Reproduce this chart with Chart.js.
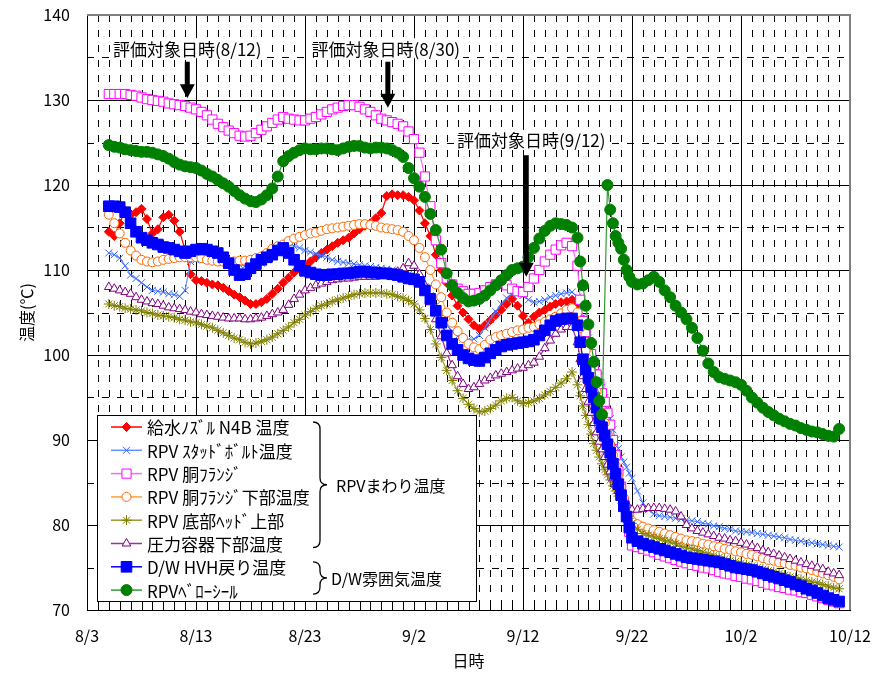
<!DOCTYPE html>
<html lang="ja">
<head>
<meta charset="utf-8">
<title>RPVまわり温度・D/W雰囲気温度</title>
<script src="https://cdn.jsdelivr.net/npm/chart.js@4.4.1/dist/chart.umd.min.js"></script>
<style>
  html, body { margin: 0; padding: 0; background: #fff; }
  #wrap { width: 875px; height: 673px; }
</style>
</head>
<body>
<div id="wrap"><canvas id="tempChart" width="875" height="673"></canvas></div>
<script>
// x = days since 8/3 (0 = 8/3, 10 = 8/13 ...), readings every half day,
// every quarter day during the fast drop 9/17 - 9/22
const X_TICK_LABELS = ['8/3', '8/13', '8/23', '9/2', '9/12', '9/22', '10/2', '10/12'];
const X_MIN = 0, X_MAX = 70;
const Y_MIN = 70, Y_MAX = 140;

const DAYS = [
  2, 2.5, 3, 3.5, 4, 4.5, 5, 5.5, 6, 6.5,
  7, 7.5, 8, 8.5, 9, 9.5, 10, 10.5, 11, 11.5,
  12, 12.5, 13, 13.5, 14, 14.5, 15, 15.5, 16, 16.5,
  17, 17.5, 18, 18.5, 19, 19.5, 20, 20.5, 21, 21.5,
  22, 22.5, 23, 23.5, 24, 24.5, 25, 25.5, 26, 26.5,
  27, 27.5, 28, 28.5, 29, 29.5, 30, 30.5, 31, 31.5,
  32, 32.5, 33, 33.5, 34, 34.5, 35, 35.5, 36, 36.5,
  37, 37.5, 38, 38.5, 39, 39.5, 40, 40.5, 41, 41.5,
  42, 42.5, 43, 43.5, 44, 44.5,
  45, 45.25, 45.5, 45.75, 46, 46.25, 46.5, 46.75, 47, 47.25, 47.5,
  47.75, 48, 48.25, 48.5, 48.75, 49, 49.25, 49.5, 49.75, 50,
  50.5, 51, 51.5,
  52, 52.5, 53, 53.5, 54, 54.5, 55, 55.5, 56, 56.5,
  57, 57.5, 58, 58.5, 59, 59.5, 60, 60.5, 61, 61.5,
  62, 62.5, 63, 63.5, 64, 64.5, 65, 65.5, 66, 66.5,
  67, 67.5, 68, 68.5, 69];

const SERIES_LABELS = ['給水ﾉｽﾞﾙ N4B 温度', 'RPV ｽﾀｯﾄﾞﾎﾞﾙﾄ温度', 'RPV 胴ﾌﾗﾝｼﾞ', 'RPV 胴ﾌﾗﾝｼﾞ下部温度',
  'RPV 底部ﾍｯﾄﾞ上部', '圧力容器下部温度', 'D/W HVH戻り温度', 'RPVﾍﾞﾛｰｼｰﾙ'];

// red series stops at 9/22
const FEED_N4B = [
  114.5, 114.0, 115.5, 117.0, 116.5, 116.8, 117.2, 116.0, 114.3, 114.8,
  116.2, 116.5, 115.8, 114.5, 112.4, 109.5, 108.8, 108.7, 108.5, 108.3,
  108.2, 107.9, 107.5, 107.1, 106.8, 106.4, 106.0, 106.0, 106.2, 106.6,
  107.2, 107.8, 108.5, 109.1, 109.7, 110.1, 110.5, 111.0, 111.5, 112.0,
  112.4, 112.8, 113.2, 113.5, 113.8, 114.3, 114.8, 115.2, 115.5, 116.1,
  116.7, 118.7, 118.9, 118.8, 118.8, 118.6, 118.2, 117.0, 115.5, 114.0,
  111.8, 110.0, 108.5, 107.0, 105.8, 105.0, 104.2, 103.5, 103.1, 103.5,
  104.1, 104.7, 105.3, 106.0, 106.6, 105.8, 104.6, 103.8, 104.5, 105.0,
  105.3, 105.7, 106.0, 106.2, 106.3, 106.5,
  106.0, 104.5, 103.0, 101.8, 100.5, 99.0, 97.5, 96.0, 94.5, 93.2, 92.0,
  90.7, 89.5, 88.0, 86.5, 85.0, 83.5, 82.0, 80.5, 79.5, 78.6];

const STUD_BOLT = [
  112.0, 111.8, 111.4, 110.5, 109.4, 109.0, 108.5, 108.0, 107.6, 107.5,
  107.4, 107.2, 107.1, 106.9, 107.6, 111.0, 111.2, 111.3, 111.3, 111.1,
  111.0, 110.9, 110.8, 110.7, 110.6, 110.5, 110.5, 110.6, 110.8, 111.2,
  111.6, 112.1, 112.6, 112.9, 112.8, 112.6, 112.3, 112.1, 111.9, 111.7,
  111.5, 111.2, 111.0, 110.9, 110.8, 110.7, 110.6, 110.5, 110.4, 110.3,
  110.2, 110.1, 110.0, 109.9, 109.7, 109.5, 109.2, 108.8, 108.0, 107.0,
  105.8, 104.5, 103.5, 102.8, 102.2, 101.9, 101.8, 101.9, 102.3, 103.2,
  104.2, 105.1, 106.0, 106.7, 107.2, 107.3, 107.0, 106.5, 106.2, 106.3,
  106.5, 106.8, 107.0, 107.2, 107.3, 107.4,
  106.8, 105.7, 104.5, 103.2, 102.0, 100.7, 99.5, 98.5, 97.5, 96.2, 95.0,
  93.7, 92.5, 91.2, 90.0, 89.0, 88.0, 87.4, 86.8, 86.1, 85.5,
  84.0, 82.6, 81.8,
  81.3, 81.1, 81.0, 80.9, 80.8, 80.7, 80.6, 80.5, 80.4, 80.2,
  80.1, 79.9, 79.8, 79.6, 79.5, 79.3, 79.2, 79.2, 79.1, 79.0,
  78.9, 78.8, 78.7, 78.6, 78.5, 78.3, 78.2, 78.1, 78.0, 77.9,
  77.8, 77.7, 77.6, 77.5, 77.4];

const FLANGE = [
  130.7, 130.7, 130.7, 130.7, 130.6, 130.5, 130.3, 130.1, 130.0, 129.9,
  129.8, 129.6, 129.5, 129.4, 129.3, 129.1, 128.9, 128.6, 128.2, 127.7,
  127.2, 126.8, 126.4, 126.1, 125.8, 125.7, 125.8, 126.1, 126.5, 126.9,
  127.3, 127.7, 128.0, 127.8, 127.7, 127.6, 127.6, 127.8, 128.0, 128.3,
  128.6, 128.9, 129.1, 129.3, 129.4, 129.4, 129.2, 128.9, 128.6, 128.2,
  127.8, 127.6, 127.4, 127.2, 126.9, 126.3, 125.4, 123.8, 121.0, 117.5,
  113.5, 110.8, 109.0, 108.3, 107.8, 107.5, 107.2, 107.2, 107.3, 107.6,
  108.0, 108.3, 108.5, 108.2, 107.8, 107.5, 107.4, 108.0, 109.0, 110.0,
  111.0, 111.8, 112.4, 112.9, 113.2, 112.8,
  110.5, 106.5, 104.0, 102.7, 101.5, 100.1, 98.8, 97.7, 96.6, 95.5, 94.5,
  93.2, 91.8, 90.0, 88.2, 86.3, 84.5, 82.7, 81.0, 79.2, 77.6,
  77.4, 77.2, 77.0,
  76.8, 76.5, 76.3, 76.1, 75.9, 75.7, 75.5, 75.3, 75.2, 75.0,
  74.9, 74.7, 74.5, 74.3, 74.2, 74.0, 73.9, 73.7, 73.6, 73.4,
  73.2, 73.0, 72.9, 72.7, 72.6, 72.4, 72.3, 72.1, 72.0, 71.8,
  71.6, 71.4, 71.2, 71.0, 70.8];

const FLANGE_LOWER = [
  116.5, 115.5, 114.3, 113.2, 112.3, 111.7, 111.2, 111.0, 110.9, 111.0,
  111.2, 111.3, 111.4, 111.5, 111.5, 111.5, 111.5, 111.4, 111.2, 111.1,
  111.0, 111.0, 111.0, 111.0, 111.1, 111.1, 111.2, 111.4, 111.6, 112.0,
  112.5, 112.8, 113.0, 113.4, 113.7, 113.9, 114.1, 114.3, 114.4, 114.6,
  114.8, 114.9, 115.0, 115.1, 115.2, 115.3, 115.4, 115.4, 115.3, 115.2,
  115.0, 114.9, 114.8, 114.7, 114.5, 114.0, 113.5, 112.6, 111.5, 110.0,
  108.3, 106.8, 105.0, 103.8, 102.8, 102.0, 101.3, 100.9, 100.7, 101.2,
  101.8, 102.1, 102.3, 102.5, 102.7, 102.9, 103.0, 103.2, 103.3, 103.6,
  103.9, 104.2, 104.5, 104.9, 105.3, 105.5,
  105.0, 103.2, 101.5, 100.5, 99.5, 98.2, 97.0, 95.7, 94.5, 93.2, 92.0,
  90.7, 89.5, 88.2, 87.0, 85.7, 84.5, 83.2, 82.0, 81.2, 80.5,
  80.1, 79.8, 79.6,
  79.4, 79.2, 79.0, 78.8, 78.6, 78.4, 78.2, 78.1, 78.0, 77.8,
  77.7, 77.5, 77.4, 77.2, 77.1, 76.9, 76.8, 76.6, 76.5, 76.3,
  76.1, 75.9, 75.8, 75.6, 75.5, 75.3, 75.2, 75.0, 74.9, 74.7,
  74.5, 74.3, 74.1, 73.9, 73.6];

const BOTTOM_HEAD = [
  106.0, 105.8, 105.7, 105.5, 105.4, 105.3, 105.2, 105.0, 104.9, 104.7,
  104.6, 104.5, 104.4, 104.2, 104.1, 103.9, 103.8, 103.6, 103.4, 103.2,
  102.9, 102.6, 102.3, 102.0, 101.8, 101.5, 101.3, 101.4, 101.6, 101.8,
  102.1, 102.5, 102.9, 103.3, 103.8, 104.2, 104.7, 105.1, 105.5, 105.8,
  106.0, 106.3, 106.5, 106.7, 106.9, 107.1, 107.2, 107.3, 107.3, 107.3,
  107.3, 107.2, 107.1, 106.9, 106.7, 106.4, 106.0, 105.3, 104.3, 103.0,
  101.3, 99.7, 98.2, 97.0, 95.8, 94.9, 94.2, 93.7, 93.3, 93.4,
  93.7, 94.1, 94.6, 94.9, 95.0, 94.6, 94.3, 94.4, 94.6, 94.9,
  95.3, 95.7, 96.2, 96.7, 97.2, 98.0,
  96.5, 95.2, 94.0, 92.9, 91.8, 90.7, 89.6, 88.8, 88.0, 87.2, 86.5,
  85.9, 85.3, 84.6, 84.0, 83.4, 82.9, 82.2, 81.5, 80.8, 80.2,
  79.5, 79.0, 78.8,
  78.6, 78.4, 78.2, 78.0, 77.8, 77.5, 77.3, 77.2, 77.0, 76.8,
  76.6, 76.4, 76.2, 76.0, 75.8, 75.7, 75.5, 75.3, 75.2, 75.0,
  74.8, 74.6, 74.5, 74.3, 74.1, 73.9, 73.8, 73.6, 73.5, 73.3,
  73.2, 73.0, 72.8, 72.6, 72.5];

const VESSEL_LOWER = [
  108.0, 107.8, 107.6, 107.4, 107.2, 106.8, 106.5, 106.3, 106.1, 106.0,
  105.8, 105.6, 105.5, 105.4, 105.3, 105.1, 105.0, 104.8, 104.7, 104.6,
  104.5, 104.4, 104.3, 104.3, 104.3, 104.2, 104.2, 104.3, 104.4, 104.6,
  104.8, 105.0, 105.3, 105.9, 106.6, 107.1, 107.6, 107.9, 108.2, 108.4,
  108.6, 108.8, 108.9, 109.0, 109.0, 109.1, 109.2, 109.2, 109.2, 109.2,
  109.3, 109.4, 109.5, 109.8, 110.2, 110.8, 110.5, 109.5, 108.2, 106.2,
  104.2, 102.2, 100.2, 98.8, 97.5, 96.6, 96.0, 96.2, 96.6, 97.0,
  97.3, 97.6, 97.8, 98.0, 98.2, 98.4, 98.5, 98.8, 99.1, 99.8,
  100.8, 101.7, 102.5, 103.0, 103.3, 103.3,
  101.5, 99.5, 97.5, 96.0, 94.5, 93.2, 92.0, 90.9, 89.8, 88.9, 88.0,
  87.1, 86.3, 85.5, 84.8, 84.0, 83.2, 82.7, 82.3, 82.0, 81.8,
  81.8, 81.9, 82.0,
  82.0, 82.0, 81.9, 81.8, 81.6, 81.0, 80.0, 79.6, 79.3, 79.1,
  78.9, 78.7, 78.5, 78.4, 78.2, 78.1, 77.9, 77.7, 77.5, 77.3,
  77.0, 76.8, 76.6, 76.4, 76.2, 76.0, 75.8, 75.6, 75.4, 75.2,
  75.0, 74.8, 74.5, 74.3, 74.1];

const DW_HVH_RETURN = [
  117.5, 117.5, 117.4, 116.8, 115.5, 114.5, 113.8, 113.5, 113.2, 113.0,
  112.7, 112.6, 112.4, 112.2, 112.0, 112.2, 112.4, 112.5, 112.4, 112.2,
  112.0, 111.5, 110.8, 110.0, 109.4, 109.5, 110.2, 110.7, 111.2, 111.5,
  111.8, 112.3, 112.6, 112.0, 111.2, 110.5, 109.9, 109.7, 109.5, 109.4,
  109.4, 109.5, 109.5, 109.6, 109.6, 109.7, 109.8, 109.8, 109.7, 109.7,
  109.6, 109.6, 109.5, 109.4, 109.2, 109.0, 108.9, 108.6, 107.6, 106.6,
  105.2, 103.8, 102.3, 101.3, 100.6, 100.0, 99.6, 99.4, 99.3, 99.7,
  100.2, 100.6, 101.0, 101.2, 101.3, 101.4, 101.5, 101.6, 101.8, 102.3,
  102.9, 103.5, 104.0, 104.2, 104.3, 104.3,
  103.5, 101.5, 99.5, 98.3, 97.3, 96.2, 95.0, 93.8, 92.5, 91.5, 90.5,
  89.5, 88.5, 87.2, 86.0, 84.8, 83.5, 82.2, 81.0, 79.7, 78.5,
  78.1, 77.8, 77.6,
  77.4, 77.2, 77.0, 76.8, 76.6, 76.4, 76.2, 76.1, 76.0, 75.9,
  75.8, 75.7, 75.6, 75.4, 75.2, 75.0, 74.9, 74.8, 74.7, 74.5,
  74.3, 74.1, 73.9, 73.7, 73.5, 73.3, 73.0, 72.8, 72.5, 72.3,
  72.0, 71.7, 71.4, 71.2, 71.0];

// no reading at 9/19 12:00, line jumps to the 120 spike
const BELLOWS_SEAL = [
  124.7, 124.5, 124.4, 124.2, 124.1, 124.0, 123.9, 123.9, 123.8, 123.6,
  123.4, 123.1, 122.7, 122.4, 122.2, 122.1, 122.0, 121.7, 121.3, 121.0,
  120.6, 120.2, 119.8, 119.3, 118.8, 118.4, 118.1, 118.0, 118.3, 118.8,
  119.6, 121.0, 122.8, 123.4, 123.8, 124.1, 124.3, 124.2, 124.2, 124.3,
  124.3, 124.2, 124.1, 124.3, 124.5, 124.6, 124.6, 124.4, 124.3, 124.4,
  124.4, 124.3, 124.1, 123.8, 123.3, 122.0, 120.8, 119.8, 118.6, 116.6,
  114.7, 112.4, 109.6, 108.2, 107.3, 106.7, 106.3, 106.4, 106.6, 107.0,
  107.6, 108.2, 108.8, 109.4, 110.0, 110.2, 110.4, 111.5, 112.6, 113.7,
  114.6, 115.2, 115.5, 115.4, 115.3, 115.0,
  113.8, 111.0, 108.2, 105.8, 103.6, 101.4, 99.2, 96.8, 94.6, 93.0, null,
  120.0, 117.1, 115.5, 114.0, 113.2, 112.5, 111.2, 110.0, 109.2, 108.6,
  108.3, 108.4, 108.8,
  109.2, 108.6, 107.6, 106.8, 105.8, 105.0, 104.2, 103.2, 102.0, 100.5,
  99.0, 98.0, 97.4, 97.2, 97.0, 96.8, 96.5, 95.8, 95.0, 94.4,
  93.8, 93.3, 92.9, 92.5, 92.2, 91.9, 91.7, 91.4, 91.2, 91.0,
  90.9, 90.7, 90.5, 90.4, 91.3];

const SERIES_VALUES = [FEED_N4B, STUD_BOLT, FLANGE, FLANGE_LOWER, BOTTOM_HEAD, VESSEL_LOWER, DW_HVH_RETURN, BELLOWS_SEAL];

const SERIES_STYLE = [
  { line: '#FF0000', mark: '#FF0000', fill: '#FF0000', style: 'rectRot', r: 4.5 },
  { line: '#6690FF', mark: '#3366FF', fill: '#3366FF', style: 'crossRot', r: 5 },
  { line: '#FF66FF', mark: '#FF00FF', fill: '#FFFFFF', style: 'rect', r: 6.5 },
  { line: '#FFA040', mark: '#FF6600', fill: '#FFFFFF', style: 'circle', r: 4.5 },
  { line: '#999933', mark: '#808000', fill: '#808000', style: 'star', r: 5 },
  { line: '#993399', mark: '#800080', fill: '#FFFFFF', style: 'triangle', r: 5 },
  { line: '#0000FF', mark: '#0000FF', fill: '#0000FF', style: 'rect', r: 7.5 },
  { line: '#339933', mark: '#008000', fill: '#008000', style: 'circle', r: 5.5 }
];

const GROUPS = [
  { label: 'RPVまわり温度', from: 0, to: 5 },
  { label: 'D/W雰囲気温度', from: 6, to: 7 }
];

// evaluation date markers: arrow x (day), arrow from/to (°C), text y (°C)
const NOTES = [
  { text: '評価対象日時(8/12)', day: 9.2, top: 134.5, tip: 130.2, textY: 136.1, dx: 0 },
  { text: '評価対象日時(8/30)', day: 27.6, top: 134.5, tip: 129.1, textY: 136.1, dx: -2 },
  { text: '評価対象日時(9/12)', day: 40.3, top: 123.5, tip: 109.2, textY: 125.3, dx: 5 }
];

const FONT = "'Noto Sans CJK JP', 'Noto Sans', sans-serif";
Chart.defaults.font.family = FONT;
Chart.defaults.color = '#000';

function drawMarker(ctx, s, x, y) {
  ctx.save();
  ctx.fillStyle = s.fill;
  ctx.strokeStyle = s.mark;
  ctx.lineWidth = 1;
  if (Chart.helpers && Chart.helpers.drawPoint) {
    Chart.helpers.drawPoint(ctx, { pointStyle: s.style, radius: s.r, rotation: 0, borderWidth: 1 }, x, y);
  } else {
    ctx.beginPath();
    ctx.arc(x, y, s.r, 0, Math.PI * 2);
    ctx.fill();
    ctx.stroke();
  }
  ctx.restore();
}

function drawBrace(ctx, x, y1, y2, ym, w) {
  const mid = x + w / 2;
  ctx.beginPath();
  ctx.moveTo(x, y1);
  ctx.quadraticCurveTo(mid, y1, mid, y1 + 7);
  ctx.lineTo(mid, ym - 7);
  ctx.quadraticCurveTo(mid, ym, x + w, ym);
  ctx.quadraticCurveTo(mid, ym, mid, ym + 7);
  ctx.lineTo(mid, y2 - 7);
  ctx.quadraticCurveTo(mid, y2, x, y2);
  ctx.stroke();
}

function drawArrow(ctx, x, y1, y2) {
  const head = 14, hw = 7.5, sw = 2.5;
  ctx.beginPath();
  ctx.moveTo(x - sw, y1);
  ctx.lineTo(x + sw, y1);
  ctx.lineTo(x + sw, y2 - head);
  ctx.lineTo(x + hw, y2 - head);
  ctx.lineTo(x, y2);
  ctx.lineTo(x - hw, y2 - head);
  ctx.lineTo(x - sw, y2 - head);
  ctx.closePath();
  ctx.fill();
}

// keep the plot box fixed: no extra room reserved for edge tick labels
function fixBox(size) {
  return s => {
    if (s.isHorizontal()) s.height = size; else s.width = size;
    s.paddingLeft = s.paddingRight = s.paddingTop = s.paddingBottom = 0;
  };
}

// dashed minor grid, small ticks and the grey frame
const minorGrid = {
  id: 'minorGrid',
  beforeDatasetsDraw(chart) {
    const { ctx, chartArea: a, scales: { x, y } } = chart;
    ctx.save();
    ctx.strokeStyle = '#000';
    ctx.lineWidth = 1;
    ctx.setLineDash([7, 8]);
    for (let d = X_MIN + 1; d < X_MAX; d++) {
      if (d % 10 === 0) continue;
      const px = Math.round(x.getPixelForValue(d)) + 0.5;
      ctx.beginPath();
      ctx.moveTo(px, a.top);
      ctx.lineTo(px, a.bottom);
      ctx.stroke();
    }
    for (let t = Y_MIN + 5; t < Y_MAX; t += 10) {
      const py = Math.round(y.getPixelForValue(t)) + 0.5;
      ctx.beginPath();
      ctx.moveTo(a.left, py);
      ctx.lineTo(a.right, py);
      ctx.stroke();
    }
    ctx.setLineDash([]);
    for (let d = X_MIN + 1; d < X_MAX; d++) {
      const px = Math.round(x.getPixelForValue(d)) + 0.5;
      ctx.beginPath();
      ctx.moveTo(px, a.bottom);
      ctx.lineTo(px, a.bottom - 5);
      ctx.stroke();
    }
    for (let t = Y_MIN + 5; t < Y_MAX; t += 10) {
      const py = Math.round(y.getPixelForValue(t)) + 0.5;
      ctx.beginPath();
      ctx.moveTo(a.left, py);
      ctx.lineTo(a.left + 5, py);
      ctx.stroke();
    }
    ctx.strokeStyle = '#808080';
    ctx.lineWidth = 2;
    ctx.beginPath();
    ctx.moveTo(a.left, a.top);
    ctx.lineTo(a.right, a.top);
    ctx.lineTo(a.right, a.bottom);
    ctx.stroke();
    ctx.restore();
  }
};

// boxed legend with braces, and the evaluation date notes
const overlay = {
  id: 'overlay',
  afterDatasetsDraw(chart) {
    const { ctx, scales: { x, y } } = chart;
    ctx.save();

    const box = { left: 97.5, top: 415.5, width: 379, height: 186 };
    ctx.fillStyle = '#fff';
    ctx.fillRect(box.left, box.top, box.width, box.height);
    ctx.strokeStyle = '#000';
    ctx.lineWidth = 1;
    ctx.strokeRect(box.left, box.top, box.width, box.height);

    const rowY = i => 427 + i * 23.3;
    ctx.textBaseline = 'middle';
    ctx.textAlign = 'left';
    ctx.font = '17px ' + FONT;
    chart.data.datasets.forEach((ds, i) => {
      const s = SERIES_STYLE[i];
      const cy = rowY(i);
      ctx.strokeStyle = s.line;
      ctx.lineWidth = 1.5;
      ctx.beginPath();
      ctx.moveTo(111, cy);
      ctx.lineTo(142, cy);
      ctx.stroke();
      drawMarker(ctx, s, 126.5, cy);
      ctx.fillStyle = '#000';
      ctx.fillText(ds.label, 147, cy + 1);
    });

    ctx.font = '16px ' + FONT;
    ctx.strokeStyle = '#000';
    ctx.lineWidth = 1.3;
    GROUPS.forEach((g, k) => {
      const y1 = rowY(g.from) - 5, y2 = rowY(g.to) + 4;
      const ym = (y1 + y2) / 2;
      drawBrace(ctx, 313, y1, y2, ym, 14);
      ctx.fillStyle = '#000';
      ctx.fillText(g.label, k === 0 ? 336 : 331, ym + 1);
    });

    ctx.font = '17px ' + FONT;
    NOTES.forEach(n => {
      const ax = x.getPixelForValue(n.day);
      const tx = ax + n.dx;
      const ty = y.getPixelForValue(n.textY);
      const w = ctx.measureText(n.text).width;
      ctx.fillStyle = '#fff';
      ctx.fillRect(tx - w / 2 - 3, ty - 10, w + 6, 20);
      ctx.fillStyle = '#000';
      ctx.textAlign = 'center';
      ctx.fillText(n.text, tx, ty + 1);
      drawArrow(ctx, ax, y.getPixelForValue(n.top), y.getPixelForValue(n.tip));
    });

    ctx.restore();
  }
};

const datasets = SERIES_VALUES.map((vals, i) => {
  const s = SERIES_STYLE[i];
  return {
    label: SERIES_LABELS[i],
    data: vals.map((v, j) => ({ x: DAYS[j], y: v })),
    borderColor: s.line,
    borderWidth: 1.2,
    pointStyle: s.style,
    pointRadius: s.r,
    pointBorderColor: s.mark,
    pointBackgroundColor: s.fill,
    pointBorderWidth: 1,
    tension: 0,
    fill: false,
    spanGaps: true,
    order: SERIES_VALUES.length - i
  };
});

new Chart(document.getElementById('tempChart'), {
  type: 'line',
  data: { datasets },
  options: {
    responsive: false,
    animation: false,
    devicePixelRatio: 1,
    layout: { padding: { top: 15, right: 25, left: 0, bottom: 0 } },
    plugins: {
      legend: { display: false },
      tooltip: { enabled: false }
    },
    scales: {
      x: {
        type: 'linear',
        min: X_MIN,
        max: X_MAX,
        afterFit: fixBox(63),
        ticks: {
          stepSize: 10,
          padding: 16,
          maxRotation: 0,
          font: { size: 16 },
          callback: v => X_TICK_LABELS[Math.round(v / 10)]
        },
        grid: { color: '#000', lineWidth: 1, drawTicks: false },
        border: { color: '#000', width: 1 },
        title: { display: true, text: '日時', font: { size: 16 }, padding: { top: 0, bottom: 2 } }
      },
      y: {
        min: Y_MIN,
        max: Y_MAX,
        afterFit: fixBox(87),
        ticks: { stepSize: 10, padding: 17, font: { size: 16 } },
        grid: { color: '#000', lineWidth: 1, drawTicks: false },
        border: { color: '#000', width: 1 },
        title: { display: true, text: '温度(℃)', font: { size: 16 }, padding: { top: 17, bottom: 0 } }
      }
    }
  },
  plugins: [minorGrid, overlay]
});
</script>
</body>
</html>
